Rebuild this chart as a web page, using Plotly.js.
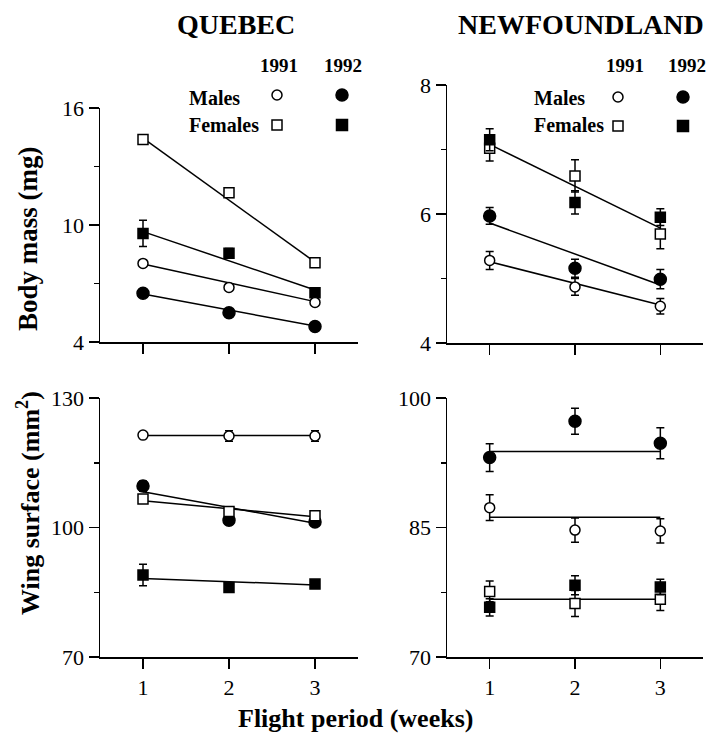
<!DOCTYPE html>
<html>
<head>
<meta charset="utf-8">
<script src="https://cdn.plot.ly/plotly-3.0.1.min.js"></script>
<style>html,body{margin:0;padding:0;background:#fff;}#chart{width:707px;height:740px;}</style>
</head>
<body>
<div id="chart"></div>
<script>
// ---- data ----
const weeks = [1, 2, 3];
const fitX = [1, 3];

// Quebec body mass (mg)
const qbM91 = [8.03, 6.8, 6.03];   const qbM91Err = [0.12, 0.12, 0.12];
const qbM92 = [6.5, 5.5, 4.79];    const qbM92Err = [0.12, 0.12, 0.12];
const qbF91 = [14.39, 11.66, 8.07]; const qbF91Err = [0.2, 0.2, 0.2];
const qbF92 = [9.57, 8.55, 6.53];  const qbF92Err = [0.67, 0.25, 0.15];
const qbFitM91 = [8.0, 6.07];
const qbFitM92 = [6.46, 4.82];
const qbFitF91 = [14.45, 8.1];
const qbFitF92 = [9.66, 6.67];

// Newfoundland body mass (mg)
const nbM91 = [5.28, 4.87, 4.57];  const nbM91Err = [0.14, 0.13, 0.12];
const nbM92 = [5.97, 5.16, 4.99];  const nbM92Err = [0.13, 0.14, 0.15];
const nbF91 = [7.02, 6.59, 5.69];  const nbF91Err = [0.2, 0.25, 0.23];
const nbF92 = [7.15, 6.18, 5.95];  const nbF92Err = [0.17, 0.18, 0.13];
const nbFitM91 = [5.26, 4.59];
const nbFitM92 = [5.86, 4.9];
const nbFitF = [7.08, 5.78];

// Quebec wing surface (mm2)
const qwM91 = [121.4, 121.2, 121.2]; const qwM91Err = [0.6, 1.2, 1.2];
const qwM92 = [109.6, 101.7, 101.3]; const qwM92Err = [1.2, 1.0, 0.9];
const qwF91 = [106.6, 103.7, 102.7]; const qwF91Err = [0.6, 0.6, 0.6];
const qwF92 = [89.0, 86.1, 86.9];    const qwF92Err = [2.5, 0.8, 0.5];
const qwFitM91 = [121.3, 121.3];
const qwFitM92 = [108.3, 101.0];
const qwFitF91 = [106.2, 102.5];
const qwFitF92 = [88.2, 86.7];

// Newfoundland wing surface (mm2)
const nwM91 = [87.3, 84.7, 84.6];   const nwM91Err = [1.5, 1.4, 1.4];
const nwM92 = [93.1, 97.3, 94.75];  const nwM92Err = [1.6, 1.5, 1.8];
const nwF91 = [77.6, 76.2, 76.7];   const nwF91Err = [1.2, 1.5, 1.3];
const nwF92 = [75.75, 78.3, 78.1];  const nwF92Err = [1.0, 1.1, 0.9];
const nwFitM91 = [86.2, 86.2];
const nwFitM92 = [93.8, 93.8];
const nwFitF = [76.7, 76.7];

const xTicks = [1, 2, 3];
const xTickText = ['1', '2', '3'];

// ---- helpers ----
const W = 707, H = 740;
const px = x => x / W;
const py = y => 1 - y / H;
const SERIF = 'Liberation Serif, Times New Roman, serif';

function line(x, y, xa, ya) {
  return {x: x, y: y, xaxis: xa, yaxis: ya, mode: 'lines', type: 'scatter',
          line: {color: '#000', width: 1.5}, hoverinfo: 'skip', showlegend: false};
}
function pts(y, err, sym, filled, xa, ya) {
  const size = sym === 'circle' ? (filled ? 12 : 10) : 10;
  return {x: weeks, y: y, xaxis: xa, yaxis: ya, mode: 'markers', type: 'scatter',
          showlegend: false,
          error_y: {type: 'data', array: err, visible: true, color: '#000', thickness: 1.5, width: 4},
          marker: {symbol: sym, size: size,
                   color: filled ? '#000' : '#fff', line: {color: '#000', width: 1.5}}};
}

const traces = [
  // Quebec body mass
  line(fitX, qbFitF91, 'x', 'y'), line(fitX, qbFitF92, 'x', 'y'),
  line(fitX, qbFitM91, 'x', 'y'), line(fitX, qbFitM92, 'x', 'y'),
  pts(qbF91, qbF91Err, 'square', false, 'x', 'y'),
  pts(qbF92, qbF92Err, 'square', true, 'x', 'y'),
  pts(qbM91, qbM91Err, 'circle', false, 'x', 'y'),
  pts(qbM92, qbM92Err, 'circle', true, 'x', 'y'),
  // Newfoundland body mass
  line(fitX, nbFitF, 'x2', 'y2'), line(fitX, nbFitM92, 'x2', 'y2'), line(fitX, nbFitM91, 'x2', 'y2'),
  pts(nbF91, nbF91Err, 'square', false, 'x2', 'y2'),
  pts(nbF92, nbF92Err, 'square', true, 'x2', 'y2'),
  pts(nbM91, nbM91Err, 'circle', false, 'x2', 'y2'),
  pts(nbM92, nbM92Err, 'circle', true, 'x2', 'y2'),
  // Quebec wing
  line(fitX, qwFitM91, 'x3', 'y3'), line(fitX, qwFitM92, 'x3', 'y3'),
  line(fitX, qwFitF91, 'x3', 'y3'), line(fitX, qwFitF92, 'x3', 'y3'),
  pts(qwM92, qwM92Err, 'circle', true, 'x3', 'y3'),
  pts(qwM91, qwM91Err, 'circle', false, 'x3', 'y3'),
  pts(qwF91, qwF91Err, 'square', false, 'x3', 'y3'),
  pts(qwF92, qwF92Err, 'square', true, 'x3', 'y3'),
  // Newfoundland wing
  line(fitX, nwFitM92, 'x4', 'y4'), line(fitX, nwFitM91, 'x4', 'y4'), line(fitX, nwFitF, 'x4', 'y4'),
  pts(nwM92, nwM92Err, 'circle', true, 'x4', 'y4'),
  pts(nwM91, nwM91Err, 'circle', false, 'x4', 'y4'),
  pts(nwF91, nwF91Err, 'square', false, 'x4', 'y4'),
  pts(nwF92, nwF92Err, 'square', true, 'x4', 'y4')
];

const axBase = {showline: true, linecolor: '#000', linewidth: 1.5, ticks: 'outside',
  ticklen: 10, tickwidth: 1.5, tickcolor: '#000', showgrid: false, zeroline: false,
  tickfont: {family: SERIF, size: 22, color: '#000'}, fixedrange: true};

function xax(domain, anchor, labels) {
  return Object.assign({}, axBase, {domain: domain, anchor: anchor, range: [0.5, 3.5],
    tickmode: 'array', tickvals: xTicks, ticktext: xTickText, showticklabels: labels});
}
function yax(domain, anchor, range, major, minorD) {
  return Object.assign({}, axBase, {domain: domain, anchor: anchor, range: range,
    tickmode: 'array', tickvals: major,
    minor: {tickmode: 'linear', tick0: range[0], dtick: minorD, ticks: 'outside', ticklen: 5,
            tickwidth: 1.5, tickcolor: '#000', showgrid: false}});
}

const xQ = [100 / W, 358 / W], xN = [447 / W, 703 / W];

const layout = {
  width: W, height: H, margin: {l: 0, r: 0, t: 0, b: 0},
  paper_bgcolor: '#fff', plot_bgcolor: 'rgba(0,0,0,0)', showlegend: false,
  font: {family: SERIF, color: '#000'},
  xaxis: xax(xQ, 'y', false),
  yaxis: yax([py(342), py(108)], 'x', [4, 16], [4, 10, 16], 3),
  xaxis2: xax(xN, 'y2', false),
  yaxis2: yax([py(343), py(85)], 'x2', [4, 8], [4, 6, 8], 1),
  xaxis3: xax(xQ, 'y3', true),
  yaxis3: yax([py(657), py(398)], 'x3', [70, 130], [70, 100, 130], 15),
  xaxis4: xax(xN, 'y4', true),
  yaxis4: yax([py(657), py(398)], 'x4', [70, 100], [70, 85, 100], 7.5),
  annotations: [],
  shapes: []
};

function txt(t, x, y, size, anchor) {
  layout.annotations.push({text: t, x: px(x), y: py(y), xref: 'paper', yref: 'paper',
    xanchor: anchor || 'center', yanchor: 'middle', showarrow: false,
    font: {family: SERIF, size: size, color: '#000'}});
}
txt('<b>QUEBEC</b>', 236, 24, 28);
txt('<b>NEWFOUNDLAND</b>', 581, 24, 28);
txt('<b>1991</b>', 279, 65, 19); txt('<b>1992</b>', 343, 65, 19);
txt('<b>Males</b>', 187, 98, 20, 'left'); txt('<b>Females</b>', 187, 125, 20, 'left');
txt('<b>1991</b>', 625, 65, 19); txt('<b>1992</b>', 687, 65, 19);
txt('<b>Males</b>', 532, 98, 20, 'left'); txt('<b>Females</b>', 532, 125, 20, 'left');
txt('<b>Flight period (weeks)</b>', 355, 718, 26);
layout.annotations.push({text: '<b>Body mass (mg)</b>', x: px(28), y: py(239), xref: 'paper', yref: 'paper',
  textangle: -90, showarrow: false, xanchor: 'center', yanchor: 'middle', font: {family: SERIF, size: 27, color: '#000'}});
layout.annotations.push({text: '<b>Wing surface (mm<sup>2</sup>)</b>', x: px(28), y: py(503), xref: 'paper', yref: 'paper',
  textangle: -90, showarrow: false, xanchor: 'center', yanchor: 'middle', font: {family: SERIF, size: 26, color: '#000'}});

function keyShape(type, cx, cy, r, filled) {
  layout.shapes.push({type: type, xref: 'paper', yref: 'paper',
    x0: px(cx - r), x1: px(cx + r), y0: py(cy + r), y1: py(cy - r),
    line: {color: '#000', width: 1.5}, fillcolor: filled ? '#000' : '#fff'});
}
keyShape('circle', 277, 95, 5, false); keyShape('circle', 342, 95, 6, true);
keyShape('rect', 277, 125, 5, false); keyShape('rect', 342, 125, 5.5, true);
keyShape('circle', 618, 97, 5, false); keyShape('circle', 683, 97, 6, true);
keyShape('rect', 618, 126, 5, false); keyShape('rect', 683, 126, 5.5, true);

Plotly.newPlot('chart', traces, layout, {staticPlot: true, displayModeBar: false});
</script>
</body>
</html>
